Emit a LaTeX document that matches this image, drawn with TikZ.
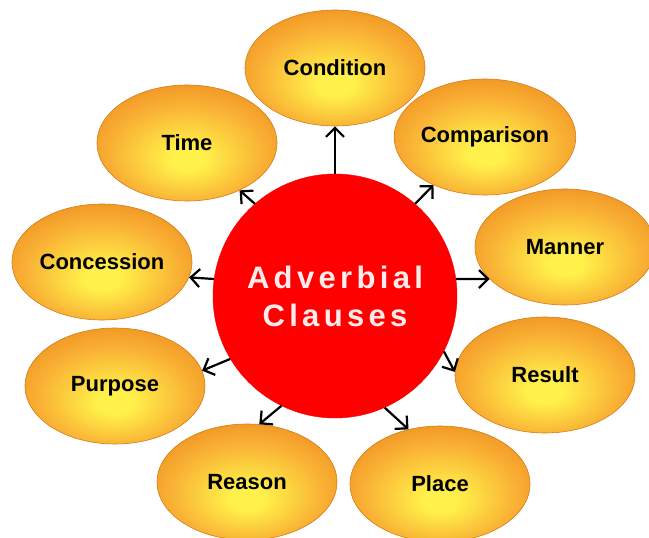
\documentclass[tikz,border=0pt]{standalone}
\usepackage{fontspec}
\setmainfont{Liberation Sans}
\usetikzlibrary{shapes.geometric, arrows.meta}

\definecolor{ballin}{HTML}{FFF04A}
\definecolor{ballmid}{HTML}{F9AE33}
\definecolor{ballout}{HTML}{EB8A1C}
\definecolor{hubred}{HTML}{FF0000}
\pgfdeclareradialshading{orangeball}{\pgfpoint{0bp}{-8bp}}
{
	color(0bp)=(ballin); color(5bp)=(ballin);
	color(22bp)=(ballmid); color(34bp)=(ballout); color(50bp)=(ballout)
}

\begin{document}
\begin{tikzpicture}
[
	x 				= 1pt,
	y 				= -1pt,
	bubble/.style 	=
	{
		ellipse,
		inner sep		= 0pt,
		minimum width	= 180pt,
		minimum height	= 116pt,
		shading			= orangeball,
		draw			= ballout!90!black,
		line width		= 0.6pt,
		font			= \fontsize{22}{25}\selectfont\bfseries,
	},
	hub/.style 		=
	{
		circle,
		minimum size	= 244pt,
		fill			= hubred,
		draw			= hubred!92!black,
		text			= white!92!red,
		align			= center,
		font			= \fontsize{31}{38}\selectfont\bfseries\addfontfeature{LetterSpace=14},
	},
	pointer/.style 	= {line width = 2.2pt, -{Straight Barb[length = 9pt, width = 18pt]}},
]

\useasboundingbox (0,0) rectangle (649,538);
\clip (0,0) rectangle (649,538);

% the nine kinds round the hub
\node [bubble] (cond) at (335,68)  {Condition};
\node [bubble] (comp) at (485,137) {Comparison};
\node [bubble] (time) at (187,143) {Time};
\node [bubble] (mann) at (565,247) {Manner};
\node [bubble] (conc) at (102,262) {Concession};
\node [bubble] (purp) at (115,386) {Purpose};
\node [bubble] (resu) at (545,375) {Result};
\node [bubble] (reas) at (247,482) {Reason};
\node [bubble] (plac) at (440,484) {Place};

\node [hub] (hub) at (335,296) {Adverbial\\Clauses};

\foreach \from/\name/\to in
	{90/cond/270, 49/comp/223, 131/time/318, 172/conc/350, 8/mann/203,
	 211/purp/10, 333/resu/178, 244/reas/78, 294/plac/120}
{
	\draw [pointer] (hub.\from) -- (\name.\to);
}

\end{tikzpicture}
\end{document}
